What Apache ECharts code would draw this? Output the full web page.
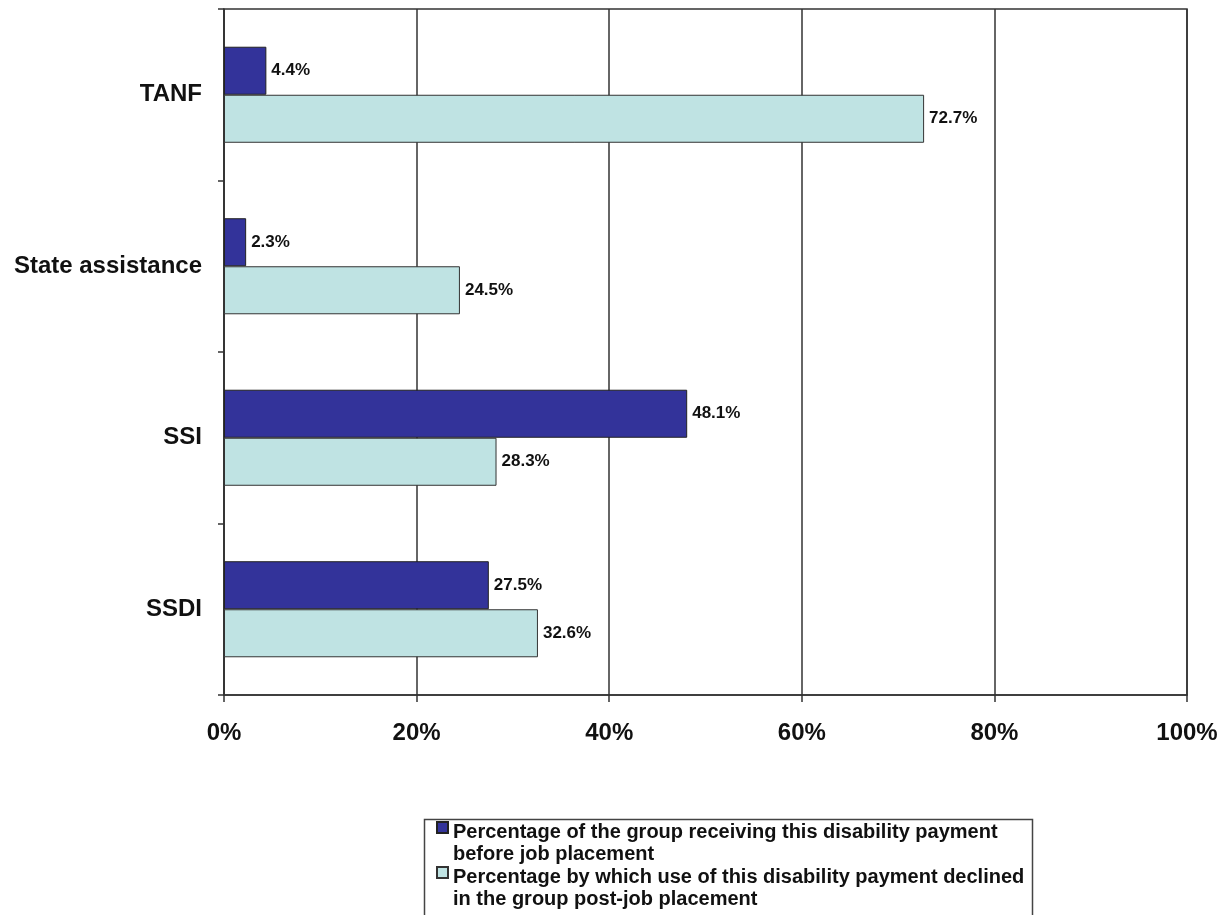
<!DOCTYPE html>
<html>
<head>
<meta charset="utf-8">
<script src="https://cdn.jsdelivr.net/npm/echarts@6/dist/echarts.min.js"></script>
<style>html,body{margin:0;padding:0;background:#fff;}#c{width:1225px;height:915px;}</style>
</head>
<body>
<div id="c"></div>
<script>
var categories = ['TANF', 'State assistance', 'SSI', 'SSDI'];
var beforeValues = [4.4, 2.3, 48.1, 27.5];
var declineValues = [72.7, 24.5, 28.3, 32.6];
var seriesNames = [
  'Percentage of the group receiving this disability payment\nbefore job placement',
  'Percentage by which use of this disability payment declined\nin the group post-job placement'
];
var xTicks = [0, 20, 40, 60, 80, 100];

var font = '"Liberation Sans", Arial, sans-serif';
var chart = echarts.init(document.getElementById('c'));
var labelCfg = {
  show: true, position: 'right', distance: 5,
  formatter: function (p) { return p.value.toFixed(1) + '%'; },
  fontFamily: font, fontWeight: 'bold', fontSize: 17, color: '#111'
};
var topIcon = 'path://M0,0L11,0L11,11L0,11ZM0,43';
chart.setOption({
  animation: false,
  backgroundColor: '#fff',
  grid: { left: 224, right: 38, top: 9, bottom: 220, show: true, borderColor: '#333', borderWidth: 1.5 },
  graphic: [{
    type: 'rect', left: 422, top: 817, silent: true,
    shape: { width: 608, height: 120 },
    style: { fill: 'none', stroke: '#444', lineWidth: 1.5 }
  }],
  legend: {
    orient: 'vertical', left: 436, top: 821,
    padding: 0,
    itemWidth: 11, itemHeight: 43, itemGap: 0,
    symbolKeepAspect: true,
    textStyle: { fontFamily: font, fontWeight: 'bold', fontSize: 20, lineHeight: 21.5, color: '#111' },
    data: [
      { name: seriesNames[0], icon: topIcon },
      { name: seriesNames[1], icon: topIcon }
    ]
  },
  xAxis: {
    type: 'value', min: 0, max: 100, interval: 20,
    axisLine: { show: true, lineStyle: { color: '#333', width: 1.5 } },
    axisTick: { show: true, length: 7, lineStyle: { color: '#333', width: 1.5 } },
    splitLine: { show: true, lineStyle: { color: '#333', width: 1.5 } },
    axisLabel: { formatter: function (v) { return xTicks.indexOf(v) >= 0 ? v + '%' : ''; }, fontFamily: font, fontWeight: 'bold', fontSize: 24, color: '#111', margin: 26 }
  },
  yAxis: {
    type: 'category', inverse: true, data: categories,
    axisLine: { show: true, lineStyle: { color: '#333', width: 1.5 } },
    axisTick: { show: true, length: 6, lineStyle: { color: '#333', width: 1.5 } },
    axisLabel: { fontFamily: font, fontWeight: 'bold', fontSize: 24, color: '#111', margin: 22 }
  },
  series: [
    {
      name: seriesNames[0], type: 'bar', data: beforeValues,
      barGap: '0%', barCategoryGap: '44%',
      itemStyle: { color: '#33339a', borderColor: '#222', borderWidth: 1 },
      label: labelCfg
    },
    {
      name: seriesNames[1], type: 'bar', data: declineValues,
      barGap: '0%', barCategoryGap: '44%',
      itemStyle: { color: '#bfe3e3', borderColor: '#333', borderWidth: 1 },
      label: labelCfg
    }
  ]
});
</script>
</body>
</html>
